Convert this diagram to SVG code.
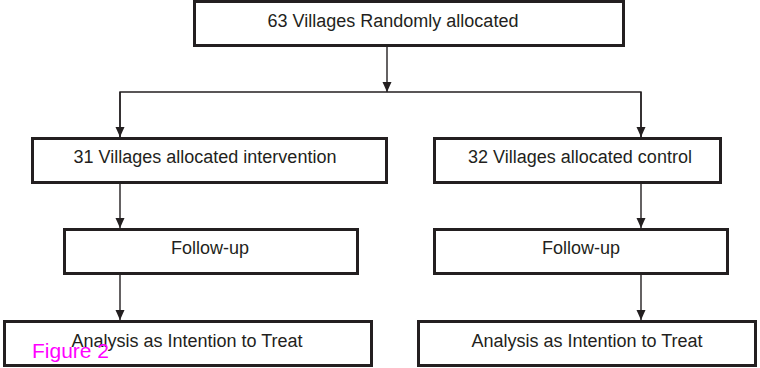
<svg xmlns="http://www.w3.org/2000/svg" width="760" height="368" viewBox="0 0 760 368">
<style>
.box{fill:#fff;stroke:#231f20;stroke-width:3}
.lbl{font-family:"Liberation Sans",Arial,sans-serif;font-size:18px;fill:#231f20;text-anchor:middle}
.con{fill:none;stroke:#231f20;stroke-width:1.4}
.cap{font-family:"Liberation Sans",Arial,sans-serif;font-size:21px;fill:#ff00ff}
</style>
<defs>
<marker id="ah" markerUnits="userSpaceOnUse" markerWidth="10" markerHeight="10" viewBox="0 0 10 10" refX="10" refY="5" orient="auto">
<path d="M0,0.5 L10,5 L0,9.5 Z" fill="#231f20"/>
</marker>
</defs>
<rect width="760" height="368" fill="#fff"/>
<g id="connectors">
<line class="con" x1="387" y1="47" x2="387" y2="92" marker-end="url(#ah)"/>
<polyline class="con" points="120,137 120,92 641,92 641,137"/>
<line class="con" x1="120" y1="92" x2="120" y2="137" marker-end="url(#ah)"/>
<line class="con" x1="641" y1="92" x2="641" y2="137" marker-end="url(#ah)"/>
<line class="con" x1="120" y1="184" x2="120" y2="228" marker-end="url(#ah)"/>
<line class="con" x1="641" y1="184" x2="641" y2="228" marker-end="url(#ah)"/>
<line class="con" x1="120" y1="275" x2="120" y2="320" marker-end="url(#ah)"/>
<line class="con" x1="641" y1="275" x2="641" y2="320" marker-end="url(#ah)"/>
</g>
<g id="n-random">
<rect class="box" x="194.5" y="1.5" width="429" height="44"/>
<text class="lbl" x="393" y="27">63 Villages Randomly allocated</text>
</g>
<g id="n-intervention">
<rect class="box" x="32.5" y="138.5" width="354" height="44"/>
<text class="lbl" x="205" y="163">31 Villages allocated intervention</text>
</g>
<g id="n-control">
<rect class="box" x="434.5" y="138.5" width="286" height="44"/>
<text class="lbl" x="580" y="163">32 Villages allocated control</text>
</g>
<g id="n-follow-left">
<rect class="box" x="64.5" y="229.5" width="293" height="44"/>
<text class="lbl" x="210" y="254">Follow-up</text>
</g>
<g id="n-follow-right">
<rect class="box" x="434.5" y="229.5" width="293" height="44"/>
<text class="lbl" x="581" y="254">Follow-up</text>
</g>
<g id="n-itt-left">
<rect class="box" x="4.5" y="321.5" width="367" height="44"/>
<text class="lbl" x="187" y="347">Analysis as Intention to Treat</text>
</g>
<g id="n-itt-right">
<rect class="box" x="418.5" y="321.5" width="337" height="44"/>
<text class="lbl" x="587" y="347">Analysis as Intention to Treat</text>
</g>
<text class="cap" x="32" y="358">Figure 2</text>
</svg>
